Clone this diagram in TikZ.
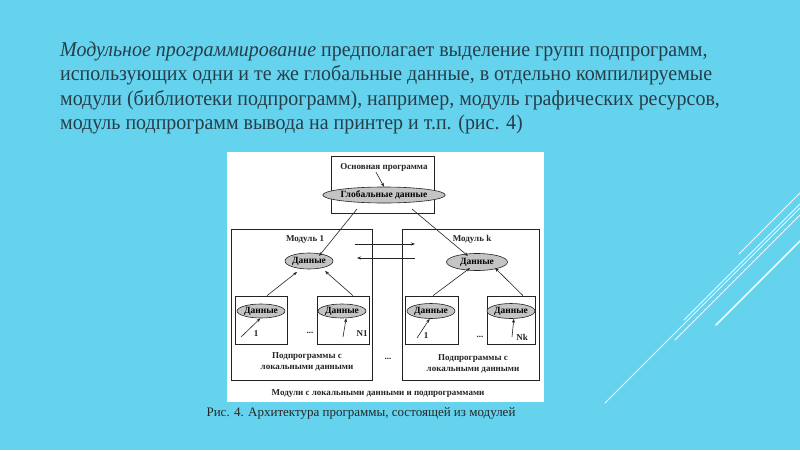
\documentclass[tikz,border=0pt]{standalone}
\usepackage{fontspec}
\setmainfont{Liberation Serif}
\newfontfamily\parafont[FakeStretch=0.95]{Liberation Serif}
\usetikzlibrary{shapes.geometric,arrows.meta,calc}
\definecolor{bg}{RGB}{102,211,238}
\definecolor{para}{RGB}{38,62,74}
\definecolor{ln}{RGB}{35,35,35}
\definecolor{ellfill}{RGB}{196,196,196}
\begin{document}
\begin{tikzpicture}[x=1pt,y=-1pt,
  ptext/.style={anchor=base west,inner sep=0pt,text=para,font=\parafont\fontsize{21}{24}\selectfont},
  boxn/.style={draw=ln,line width=0.7pt,inner sep=0pt},
  ell/.style={ellipse,draw=ln,fill=ellfill,line width=0.6pt,inner sep=0pt,font=\bfseries\fontsize{9.5}{10}\selectfont},
  lbl/.style={inner sep=0pt,text=ln,font=\bfseries\fontsize{9}{11}\selectfont},
  arr/.style={draw=ln,line width=0.6pt,-{Stealth[length=4pt,width=3pt]}},
  deco/.style={draw=white!90!bg,line cap=round}
]
\useasboundingbox (0,0) rectangle (800,450);
\fill[bg] (0,0) rectangle (800,450);

% decorative lines
\draw[deco,line width=0.8pt] (739,254) -- (800,193);
\draw[deco,line width=0.8pt] (684,320) -- (800,204);
\draw[deco,line width=0.8pt] (605,403) -- (800,208);
\draw[deco,line width=0.8pt] (675,340) -- (800,215);
\draw[deco,line width=1.5pt] (716,325) -- (800,241);

% paragraph
\node[ptext] (p1) at (60,56) {\textit{Модульное программирование} предполагает выделение групп подпрограмм,};
\node[ptext] (p2) at (60,80.5) {использующих одни и те же глобальные данные, в отдельно компилируемые};
\node[ptext] (p3) at (60,105) {модули (библиотеки подпрограмм), например, модуль графических ресурсов,};
\node[ptext] (p4) at (60,129.5) {модуль подпрограмм вывода на принтер и т.п. (рис. 4)};

% white panel
\fill[white] (227,152) rectangle (544,402);

% top box
\node[boxn,minimum width=103pt,minimum height=57pt] (top) at (382.5,184.5) {};
\node[lbl] (main) at (384,167) {Основная программа};
\node[ell,minimum width=96pt,minimum height=16pt] (glob) at (384,195) {Глобальные данные};
\draw[arr] ($(main.south)+(-8,1)$) -- (glob.north);

% module boxes
\node[boxn,minimum width=141pt,minimum height=151pt] (m1) at (301.5,304.5) {};
\node[boxn,minimum width=137pt,minimum height=151pt] (mk) at (470.5,304.5) {};
\node[lbl] (m1t) at (305,239) {Модуль 1};
\node[lbl] (mkt) at (472,239) {Модуль k};

\node[ell,minimum width=48pt,minimum height=16pt] (d1) at (309,261) {Данные};
\node[ell,minimum width=61pt,minimum height=17pt] (dk) at (477,262) {Данные};

\draw[arr] ($(glob.center)+(-27,14)$) -- ($(d1.center)+(10,-5)$);
\draw[arr] ($(glob.center)+(28,14)$) -- ($(dk.center)+(-9,-6)$);

% exchange arrows
\coordinate (ea1) at (355,244);
\coordinate (ea2) at (415,244);
\coordinate (eb1) at (415,258);
\coordinate (eb2) at (357,258);
\draw[arr] (ea1) -- (ea2);
\draw[arr] (eb1) -- (eb2);

% sub boxes module 1
\node[boxn,minimum width=52pt,minimum height=48pt] (s1a) at (261,320) {};
\node[boxn,minimum width=52pt,minimum height=48pt] (s1b) at (343,320) {};
\node[ell,minimum width=46pt,minimum height=14pt] (e1a) at (261,311) {Данные};
\node[ell,minimum width=43pt,minimum height=14pt] (e1b) at (342,311) {Данные};
\node[lbl] (n1a) at (256,334) {1};
\node[lbl] (n1b) at (362,334) {N1};
\draw[arr] ($(n1a.center)+(-15,3)$) -- (e1a.-95);
\draw[arr] ($(n1b.center)+(-19,3)$) -- (e1b.-60);
\draw[arr] ($(s1a.north)+(6,0)$) -- ($(d1.center)+(-12,11)$);
\draw[arr] ($(s1b.north)+(10,0)$) -- ($(d1.center)+(16,10)$);
\node[lbl] (dots1) at (310,333) {...};

% sub boxes module k
\node[boxn,minimum width=53pt,minimum height=48pt] (ska) at (431.5,320) {};
\node[boxn,minimum width=48pt,minimum height=48pt] (skb) at (511,320) {};
\node[ell,minimum width=48pt,minimum height=15pt] (eka) at (431,311) {Данные};
\node[ell,minimum width=42pt,minimum height=15pt] (ekb) at (511,311) {Данные};
\node[lbl] (nka) at (426,336) {1};
\node[lbl] (nkb) at (522,337) {Nk};
\draw[arr] ($(nka.center)+(-9,2)$) -- (eka.-100);
\draw[arr] ($(nkb.center)+(-10,0)$) -- (ekb.-70);
\draw[arr] ($(ska.north)+(1.5,0)$) -- ($(dk.center)+(-7,6)$);
\draw[arr] ($(skb.north)+(12,0)$) -- ($(dk.center)+(18,6)$);
\node[lbl] (dotsk) at (480,337) {...};

% captions inside modules
\node[lbl,align=center] (c1) at (307,361.5) {Подпрограммы с\\локальными данными};
\node[lbl,align=center] (ck) at (473,364) {Подпрограммы с\\локальными данными};
\node[lbl] (dotsm) at (388,359) {...};

\node[lbl] (bottom) at (378,394) {Модули с локальными данными и подпрограммами};

\node[inner sep=0pt,text=black!85,font=\fontsize{13}{15}\selectfont] (cap) at (361,413) {Рис. 4. Архитектура программы, состоящей из модулей};
\end{tikzpicture}
\end{document}
